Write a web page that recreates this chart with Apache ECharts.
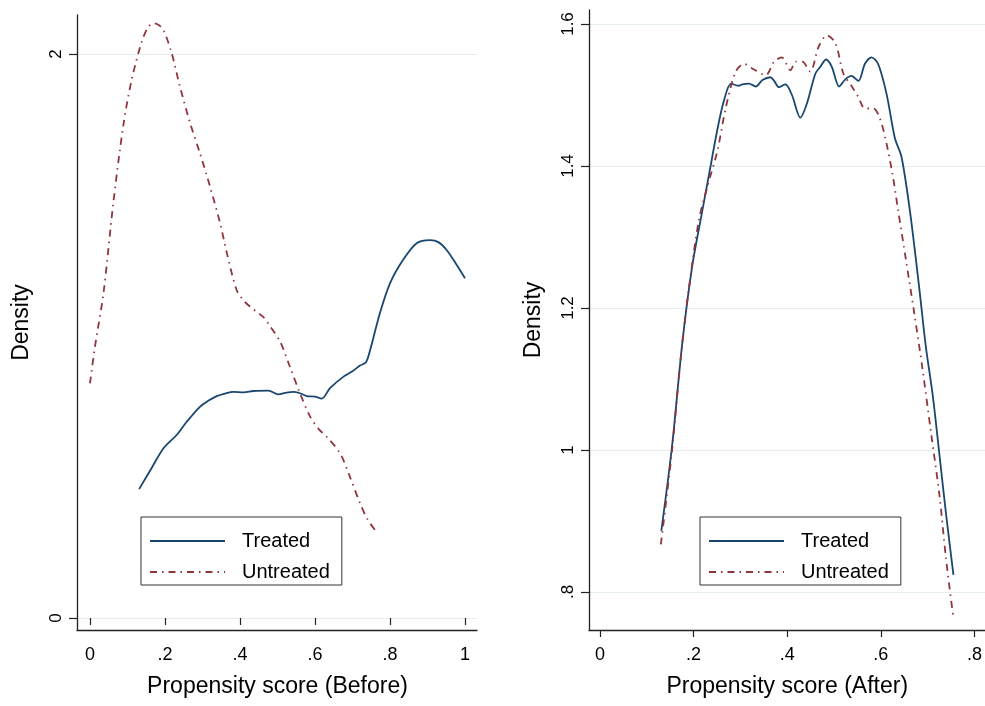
<!DOCTYPE html>
<html>
<head>
<meta charset="utf-8">
<script src="https://cdn.jsdelivr.net/npm/echarts@6/dist/echarts.min.js"></script>
<style>
  html, body { margin: 0; padding: 0; background: #fff; }
  #chart { width: 985px; height: 706px; }
</style>
</head>
<body>
<div id="chart"></div>
<script>
// kernel density curves, [propensity score, density]
const beforeTreated = [
  [0.131, 0.457], [0.164, 0.531], [0.196, 0.602], [0.231, 0.649], [0.258, 0.696],
  [0.293, 0.749], [0.315, 0.770], [0.338, 0.787], [0.36, 0.796], [0.382, 0.802],
  [0.41, 0.800], [0.436, 0.805], [0.476, 0.806], [0.502, 0.793], [0.52, 0.798],
  [0.542, 0.802], [0.56, 0.797], [0.578, 0.787], [0.60, 0.785], [0.618, 0.778],
  [0.64, 0.815], [0.676, 0.856], [0.702, 0.877], [0.72, 0.895], [0.736, 0.907],
  [0.747, 0.950], [0.773, 1.081], [0.80, 1.187], [0.835, 1.270], [0.871, 1.329],
  [0.907, 1.340], [0.93, 1.332], [0.951, 1.305], [0.975, 1.258], [1.0, 1.205]
];
const beforeUntreated = [
  [0, 0.832], [0.013, 0.96], [0.036, 1.152], [0.062, 1.470], [0.089, 1.748],
  [0.111, 1.908], [0.138, 2.044], [0.155, 2.095], [0.169, 2.109], [0.183, 2.103],
  [0.196, 2.085], [0.218, 2.002], [0.24, 1.884], [0.267, 1.755], [0.293, 1.649],
  [0.32, 1.530], [0.347, 1.40], [0.365, 1.294], [0.391, 1.163], [0.41, 1.125],
  [0.427, 1.104], [0.445, 1.085], [0.462, 1.068], [0.48, 1.035], [0.507, 0.980],
  [0.533, 0.891], [0.56, 0.797], [0.587, 0.714], [0.61, 0.670], [0.631, 0.643],
  [0.667, 0.584], [0.693, 0.501], [0.72, 0.407], [0.74, 0.350], [0.76, 0.312]
];
const afterTreated = [
  [0.131, 0.886], [0.154, 1.006], [0.176, 1.152], [0.197, 1.259], [0.218, 1.335],
  [0.236, 1.399], [0.25, 1.449], [0.264, 1.490], [0.28, 1.516], [0.296, 1.513],
  [0.304, 1.515], [0.318, 1.516], [0.333, 1.512], [0.347, 1.521], [0.364, 1.525],
  [0.372, 1.520], [0.382, 1.511], [0.396, 1.515], [0.41, 1.500], [0.428, 1.468],
  [0.442, 1.488], [0.46, 1.530], [0.471, 1.540], [0.483, 1.550], [0.495, 1.540],
  [0.511, 1.512], [0.524, 1.522], [0.537, 1.527], [0.552, 1.520], [0.566, 1.544],
  [0.58, 1.553], [0.594, 1.544], [0.612, 1.502], [0.63, 1.439], [0.644, 1.413],
  [0.662, 1.337], [0.682, 1.228], [0.696, 1.146], [0.711, 1.076], [0.725, 0.994],
  [0.739, 0.911], [0.755, 0.824]
];
const afterUntreated = [
  [0.130, 0.867], [0.154, 1.0], [0.172, 1.127], [0.19, 1.228], [0.211, 1.323],
  [0.229, 1.37], [0.251, 1.422], [0.269, 1.483], [0.29, 1.533], [0.308, 1.544],
  [0.326, 1.537], [0.354, 1.528], [0.372, 1.547], [0.388, 1.553], [0.407, 1.535],
  [0.418, 1.547], [0.432, 1.547], [0.449, 1.533], [0.467, 1.568], [0.485, 1.584],
  [0.503, 1.573], [0.52, 1.530], [0.538, 1.512], [0.552, 1.497], [0.566, 1.481],
  [0.584, 1.481], [0.598, 1.467], [0.612, 1.432], [0.626, 1.384], [0.637, 1.337],
  [0.654, 1.266], [0.672, 1.190], [0.689, 1.114], [0.707, 1.025], [0.725, 0.937],
  [0.739, 0.848], [0.755, 0.763]
];
const legendNames = ['Treated', 'Untreated'];
const xTitles = ['Propensity score (Before)', 'Propensity score (After)'];
const yTitle = 'Density';

const FONT = '"Liberation Sans", Arial, sans-serif';
const NAVY = '#1a476f';
const MAROON = '#90353b';
const AXIS = '#222';
const GRID = '#e4edf0';

// stata style numbers: .2 instead of 0.2
const stataNum = v => {
  const s = String(+v.toFixed(2));
  return s.replace(/^0\./, '.');
};

const chart = echarts.init(document.getElementById('chart'));

const frameX = g => ({
  gridIndex: g, type: 'value', min: 0, max: 1,
  axisLine: { show: true, onZero: false, lineStyle: { color: AXIS, width: 1.3 } },
  axisTick: { show: false }, axisLabel: { show: false }, splitLine: { show: false }
});
const frameY = g => ({
  gridIndex: g, type: 'value', min: 0, max: 1,
  name: yTitle, nameLocation: 'middle', nameGap: 44,
  nameTextStyle: { fontFamily: FONT, fontSize: 23, color: '#000' },
  axisLine: { show: true, onZero: false, lineStyle: { color: AXIS, width: 1.3 } },
  axisTick: { show: false }, axisLabel: { show: false }, splitLine: { show: false }
});
const hidden = (g, min, max) => ({ gridIndex: g, type: 'value', min, max, show: false });
const tickX = (g, max, offset, title) => ({
  gridIndex: g, type: 'value', min: 0, max, interval: 0.2, offset,
  name: title, nameLocation: 'middle', nameGap: 45,
  nameTextStyle: { fontFamily: FONT, fontSize: 23, color: '#000' },
  axisLine: { show: false },
  axisTick: { show: true, length: 7, lineStyle: { color: AXIS, width: 1.2 } },
  axisLabel: { fontFamily: FONT, fontSize: 18, color: '#000', margin: 16, formatter: stataNum },
  splitLine: { show: false }
});
const tickY = (g, min, max, interval) => ({
  gridIndex: g, type: 'value', min, max, interval,
  axisLine: { show: false },
  axisTick: { show: true, length: 8, lineStyle: { color: AXIS, width: 1.2 } },
  axisLabel: { fontFamily: FONT, fontSize: 17, color: '#000', margin: 12, rotate: 90, formatter: stataNum },
  splitLine: { show: true, lineStyle: { color: GRID, width: 1.2 } }
});

const curve = (name, data, idx, color, dashed) => ({
  name, type: 'line', data, xAxisIndex: idx, yAxisIndex: idx,
  symbol: 'none', smooth: 0.3, clip: false, silent: true,
  lineStyle: { color, width: 1.8, type: dashed ? [7, 5, 1.5, 5] : 'solid' },
  itemStyle: { color }
});

const legendBox = left => ({
  data: legendNames, left, top: 517, orient: 'vertical',
  itemWidth: 75, itemHeight: 20, itemGap: 11,
  padding: [14, 12, 3, 8],
  borderColor: '#333', borderWidth: 1, backgroundColor: '#fff',
  selectedMode: false,
  itemStyle: { opacity: 0 },
  textStyle: { fontFamily: FONT, fontSize: 20, color: '#000', lineHeight: 20, padding: [0, 0, 0, 12] }
});

chart.setOption({
  backgroundColor: '#fff',
  animation: false,
  grid: [
    { left: 77, top: 15, width: 400, height: 615 },
    { left: 77, top: 54, width: 400, height: 564 },
    { left: 90, top: 54, width: 375, height: 564 },
    { left: 589, top: 10, width: 396, height: 620 },
    { left: 589, top: 24, width: 396, height: 568 },
    { left: 600, top: 24, width: 377, height: 568 }
  ],
  xAxis: [
    frameX(0), hidden(1, 0, 1), tickX(2, 1, 12, xTitles[0]),
    frameX(3), hidden(4, 0, 1), tickX(5, 0.8, 38, xTitles[1])
  ],
  yAxis: [
    frameY(0), tickY(1, 0, 2, 2), hidden(2, 0, 2),
    frameY(3), tickY(4, 0.8, 1.6, 0.2), hidden(5, 0.8, 1.6)
  ],
  legend: [legendBox(141), legendBox(700)],
  series: [
    curve(legendNames[0], beforeTreated, 2, NAVY, false),
    curve(legendNames[1], beforeUntreated, 2, MAROON, true),
    curve(legendNames[0], afterTreated, 5, NAVY, false),
    curve(legendNames[1], afterUntreated, 5, MAROON, true)
  ]
});
</script>
</body>
</html>
